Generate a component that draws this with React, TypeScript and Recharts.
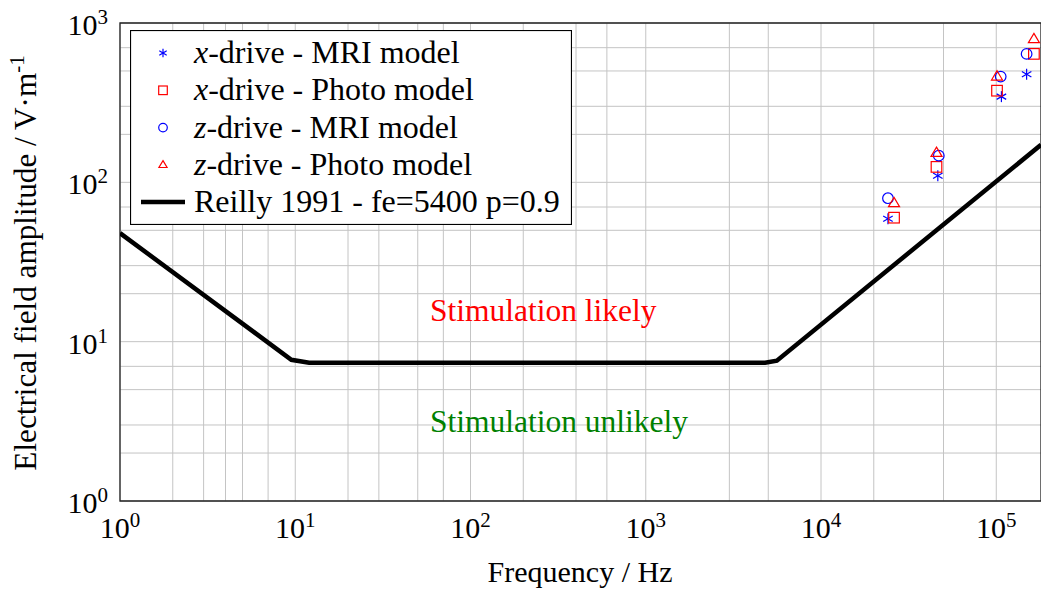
import React from "react";
import {
  ComposedChart,
  Scatter,
  Line,
  XAxis,
  YAxis,
  CartesianGrid,
  Legend,
  ReferenceArea,
  ReferenceDot,
} from "recharts";

// frequency (Hz) / electrical field amplitude (V/m)
const xDriveMri = [
  { f: 24100, e: 59 },
  { f: 46400, e: 110 },
  { f: 107000, e: 345 },
  { f: 149000, e: 477 },
];
const xDrivePhoto = [
  { f: 26100, e: 60 },
  { f: 45600, e: 125 },
  { f: 101000, e: 376 },
  { f: 164000, e: 640 },
];
const zDriveMri = [
  { f: 24100, e: 79.5 },
  { f: 47000, e: 147 },
  { f: 106000, e: 461 },
  { f: 149000, e: 640 },
];
const zDrivePhoto = [
  { f: 26100, e: 74 },
  { f: 45600, e: 153 },
  { f: 101000, e: 461 },
  { f: 164000, e: 791 },
];
const reilly = [
  { f: 1, e: 48 },
  { f: 9.5, e: 7.7 },
  { f: 12, e: 7.38 },
  { f: 4800, e: 7.38 },
  { f: 5600, e: 7.6 },
  { f: 180000, e: 172 },
];

const xTicks = [1, 10, 100, 1000, 10000, 100000];
const yTicks = [1, 10, 100, 1000];
const legendLabels = [
  ["x", "-drive - MRI model"],
  ["x", "-drive - Photo model"],
  ["z", "-drive - MRI model"],
  ["z", "-drive - Photo model"],
];

const X_MAX = 180000;
const FONT = "'Liberation Serif', 'Times New Roman', serif";
const FS = 30;
const FS_BIG = 32;
const BLUE = "#0000ff";
const RED = "#ff0000";

// log grid: every integer multiple inside each decade
const gridValues = (max: number) => {
  const out: number[] = [];
  for (let d = 1; d <= max; d *= 10) {
    for (let m = 1; m <= 9; m++) if (d * m <= max) out.push(d * m);
  }
  return out;
};

const Asterisk = ({ cx, cy, r = 5.5 }: any) => {
  const a = r * Math.cos(Math.PI / 6);
  const b = r * 0.5;
  return (
    <g stroke={BLUE} strokeWidth={1.2}>
      <line x1={cx} y1={cy - r} x2={cx} y2={cy + r} />
      <line x1={cx - a} y1={cy - b} x2={cx + a} y2={cy + b} />
      <line x1={cx - a} y1={cy + b} x2={cx + a} y2={cy - b} />
    </g>
  );
};
const Square = ({ cx, cy, r = 5.3 }: any) => (
  <rect x={cx - r} y={cy - r} width={2 * r} height={2 * r} fill="none" stroke={RED} strokeWidth={1.2} />
);
const Circle = ({ cx, cy, r = 5.3 }: any) => (
  <circle cx={cx} cy={cy} r={r} fill="none" stroke={BLUE} strokeWidth={1.2} />
);
const Triangle = ({ cx, cy, r = 5.8 }: any) => (
  <polygon
    points={`${cx},${cy - r} ${cx + r * 0.95},${cy + r * 0.6} ${cx - r * 0.95},${cy + r * 0.6}`}
    fill="none"
    stroke={RED}
    strokeWidth={1.2}
  />
);
const markers = [Asterisk, Square, Circle, Triangle];

const PowTick = ({ x, y, payload, side }: any) => {
  const exp = Math.round(Math.log10(payload.value));
  const isX = side === "x";
  return (
    <text
      x={isX ? x : 108}
      y={isX ? 538 : y + 12}
      textAnchor={isX ? "middle" : "end"}
      fontFamily={FONT}
      fontSize={FS}
      fill="#000"
    >
      10
      <tspan dy={-11} fontSize={21}>
        {exp}
      </tspan>
    </text>
  );
};

const LegendBox = () => (
  <svg width={442} height={195} style={{ display: "block" }}>
    <rect x={0.5} y={0.5} width={441} height={194} fill="#fff" stroke="#000" strokeWidth={1.2} />
    {legendLabels.map(([v, rest], i) => {
      const M = markers[i];
      const base = 33 + i * 37.3;
      return (
        <g key={i}>
          <M cx={33} cy={base - 10} r={4.3} />
          <text x={64} y={base} fontFamily={FONT} fontSize={FS_BIG} fill="#000">
            <tspan fontStyle="italic">{v}</tspan>
            {rest}
          </text>
        </g>
      );
    })}
    <line x1={11} y1={172} x2={55} y2={172} stroke="#000" strokeWidth={4.5} />
    <text x={64} y={182} fontFamily={FONT} fontSize={FS_BIG} fill="#000">
      Reilly 1991 - fe=5400 p=0.9
    </text>
  </svg>
);

export default function App() {
  return (
    <div style={{ position: "absolute", left: 0, top: 0, background: "#fff" }}>
      <ComposedChart
        width={1041}
        height={590}
        margin={{ top: 23, right: 0, bottom: 0, left: 0 }}
      >
        <CartesianGrid
          stroke="#c4c4c4"
          strokeWidth={1}
          verticalValues={gridValues(X_MAX)}
          horizontalValues={gridValues(1000)}
        />
        <XAxis
          dataKey="f"
          type="number"
          scale="log"
          domain={[1, X_MAX]}
          allowDataOverflow
          ticks={xTicks}
          height={89}
          axisLine={false}
          tickLine={false}
          tick={<PowTick side="x" />}
          label={{
            content: () => (
              <text x={580} y={582} textAnchor="middle" fontFamily={FONT} fontSize={FS}>
                Frequency / Hz
              </text>
            ),
          }}
        />
        <YAxis
          dataKey="e"
          type="number"
          scale="log"
          domain={[1, 1000]}
          allowDataOverflow
          ticks={yTicks}
          width={120}
          axisLine={false}
          tickLine={false}
          tick={<PowTick side="y" />}
          label={{
            content: () => (
              <text
                x={36}
                y={263}
                transform="rotate(-90 36 263)"
                textAnchor="middle"
                fontFamily={FONT}
                fontSize={31.2}
              >
                Electrical field amplitude / V·m
                <tspan dy={-12} fontSize={21}>
                  -1
                </tspan>
              </text>
            ),
          }}
        />
        <ReferenceArea
          x1={1}
          x2={X_MAX}
          y1={1}
          y2={1000}
          fill="none"
          stroke="#222"
          strokeWidth={1.3}
          ifOverflow="visible"
        />
        <Line
          data={reilly}
          dataKey="e"
          type="linear"
          stroke="#000"
          strokeWidth={4.5}
          dot={false}
          isAnimationActive={false}
          legendType="none"
        />
        <Scatter data={xDriveMri} dataKey="e" shape={<Asterisk />} isAnimationActive={false} />
        <Scatter data={xDrivePhoto} dataKey="e" shape={<Square />} isAnimationActive={false} />
        <Scatter data={zDriveMri} dataKey="e" shape={<Circle />} isAnimationActive={false} />
        <Scatter data={zDrivePhoto} dataKey="e" shape={<Triangle />} isAnimationActive={false} />
        <ReferenceDot
          x={58.7}
          y={15.65}
          r={0}
          shape={(p: any) => (
            <text x={p.cx} y={p.cy + 10} textAnchor="start" fontFamily={FONT} fontSize={31.5} fill="#ff0000">
              Stimulation likely
            </text>
          )}
        />
        <ReferenceDot
          x={58.7}
          y={3.15}
          r={0}
          shape={(p: any) => (
            <text x={p.cx} y={p.cy + 10} textAnchor="start" fontFamily={FONT} fontSize={31.5} fill="#008000">
              Stimulation unlikely
            </text>
          )}
        />
        <Legend
          layout="vertical"
          align="center"
          verticalAlign="middle"
          wrapperStyle={{ left: 130, top: 30, width: 442 }}
          content={() => <LegendBox />}
        />
      </ComposedChart>
    </div>
  );
}
